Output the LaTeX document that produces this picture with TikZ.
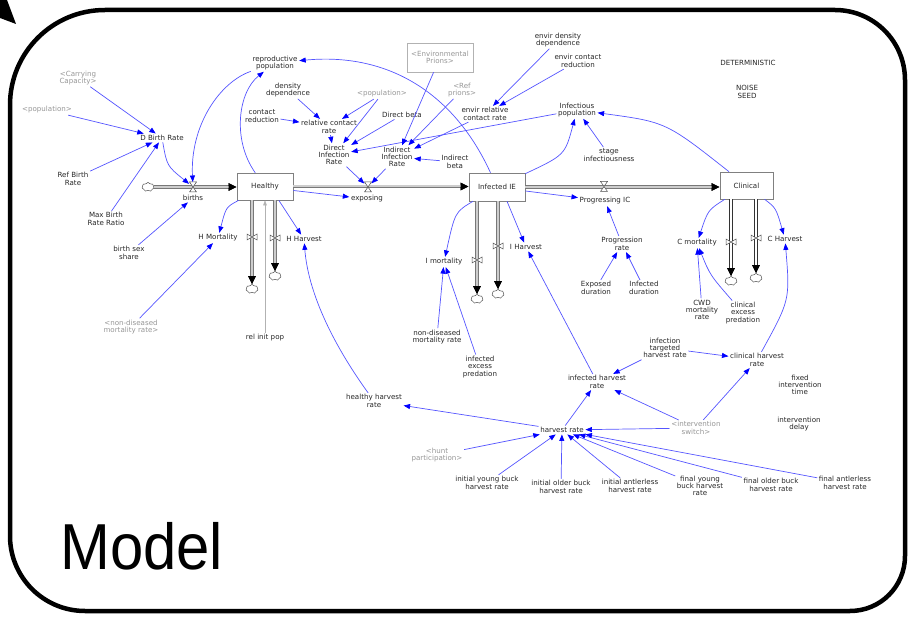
\documentclass[tikz,border=0pt]{standalone}
\usepackage{fontspec}
\usepackage{graphicx}
\setmainfont{DejaVu Sans}
\newfontfamily\modelfont{Liberation Sans}
\usetikzlibrary{arrows.meta,shapes.symbols}
\definecolor{lnkc}{RGB}{85,85,255}
\definecolor{tipc}{RGB}{0,0,255}
\definecolor{shadowc}{RGB}{150,150,150}
\definecolor{pipeout}{RGB}{120,120,120}
\definecolor{pipein}{RGB}{205,205,205}
\tikzset{
 var/.style={font=\fontsize{7.1}{7.3}\selectfont, align=center, inner sep=1.5pt, text=black!85},
 shadowvar/.style={var, text=shadowc},
 stock/.style={draw=gray, fill=white, font=\fontsize{7.1}{8}\selectfont, inner sep=0pt, line width=0.6pt, text=black!85},
 lnk/.style={draw=lnkc, line width=0.7pt, -{Triangle[length=6.5pt,width=5pt,color=tipc]}},
 glnk/.style={draw=black!30, line width=0.5pt, -{Triangle[length=5pt,width=3.5pt,color=black!30]}},
 pipe/.style={draw=pipein, line width=2pt, preaction={draw=pipeout, line width=3.6pt}, -{Triangle[length=8pt,width=7pt,color=black]}},
 pipeb/.style={draw=white, line width=2pt, preaction={draw=black!80, line width=3.4pt}, -{Triangle[length=8pt,width=7pt,color=black]}},
 cloudn/.style={cloud, cloud puffs=7, cloud puff arc=120, aspect=1.4, draw=black!70, fill=white, minimum width=12pt, minimum height=9pt, inner sep=0pt, line width=0.5pt},
 hourglass/.pic={\draw[black!70, fill=white, line width=0.5pt] (-3.5,-5) -- (3.5,-5) -- (-3.5,5) -- (3.5,5) -- cycle;},
 bowtie/.pic={\draw[black!70, fill=white, line width=0.5pt] (-5,-3) -- (-5,3) -- (5,-3) -- (5,3) -- cycle;}
}
\begin{document}
\begin{tikzpicture}[x=1pt,y=-1pt]
\useasboundingbox (0,0) rectangle (911,620);
% frame
\draw[line width=4.5pt] (105,10) -- (835,10) .. controls (873.7,10) and (905,41.3) .. (905,80) -- (905,556) .. controls (905,586.4) and (880.6,611) .. (850,611) -- (85,611) .. controls (43.6,611) and (10,577.4) .. (10,536) -- (10,105) .. controls (10,52.5) and (52.5,10) .. (105,10) -- cycle;
\fill (0,0) -- (7,0) -- (16,24) -- (0,18) -- cycle;
\node[anchor=base west, inner sep=0pt, font=\modelfont\fontsize{65}{65}\selectfont] (model) at (60,569) {\scalebox{0.92}[1]{Model}};

% stocks
\node[stock, minimum width=56pt, minimum height=27pt] (healthy) at (265,186.5) {Healthy};
\node[stock, minimum width=56pt, minimum height=28pt] (ie) at (497,187) {Infected IE};
\node[stock, minimum width=53pt, minimum height=27pt] (clin) at (746.5,185.5) {Clinical};

% clouds
\node[cloudn] (c0) at (148,187) {};
\node[cloudn] (hmc) at (252,289) {};
\node[cloudn] (hhc) at (275,276) {};
\node[cloudn] (imc) at (477,299) {};
\node[cloudn] (ihc) at (498,294) {};
\node[cloudn] (cmc) at (731,281) {};
\node[cloudn] (chc) at (756,278) {};

% valves
\coordinate (bv) at (193,187);
\coordinate (ev) at (368,187);
\coordinate (pv) at (604,186.5);
\coordinate (hmv) at (252,237);
\coordinate (hhv) at (275,238);
\coordinate (imv) at (477,260);
\coordinate (ihv) at (498,246);
\coordinate (cmv) at (731,242);
\coordinate (chv) at (756,238);

% variables
\node[shadowvar] (cc) at (78,78) {<Carrying\\Capacity>};
\node[shadowvar] (pop1) at (47,110) {<population>};
\node[var] (dbr) at (162,138) {D Birth Rate};
\node[var] (rbr) at (73,179) {Ref Birth\\Rate};
\node[var] (mbr) at (106,219) {Max Birth\\Rate Ratio};
\node[var] (bss) at (129,253) {birth sex\\share};
\node[var] (birthsl) at (193,198) {births};
\node[var] (repro) at (275,63) {reproductive\\population};
\node[var] (dd) at (288,90) {density\\dependence};
\node[var] (cr) at (262,116) {contact\\reduction};
\node[var] (rcr) at (329,127) {relative contact\\rate};
\node[shadowvar] (pop2) at (382,94) {<population>};
\node[var] (db) at (402,115) {Direct beta};
\node[var] (dir) at (334,155) {Direct\\Infection\\Rate};
\node[var] (iir) at (397,157) {Indirect\\Infection\\Rate};
\node[var] (ib) at (455,162) {Indirect\\beta};
\node[shadowvar, draw=gray!60, line width=0.6pt, minimum width=66pt, minimum height=29pt] (envpr) at (440,57.5) {<Environmental\\Prions>};
\node[shadowvar] (refpr) at (462,90) {<Ref\\prions>};
\node[var] (erc) at (485,114) {envir relative\\contact rate};
\node[var] (edd) at (558,40) {envir density\\dependence};
\node[var] (ecr) at (578,61) {envir contact\\reduction};
\node[var] (infpop) at (577,110) {Infectious\\population};
\node[var] (stinf) at (609,155) {stage\\infectiousness};
\node[var] (det) at (748,63) {DETERMINISTIC};
\node[var] (noise) at (747,92) {NOISE\\SEED};
\node[var] (expo) at (367,199) {exposing};
\node[var] (progic) at (605,201) {Progressing IC};
\node[var] (prate) at (622,244) {Progression\\rate};
\node[var] (expd) at (596,288) {Exposed\\duration};
\node[var] (infd) at (644,288) {Infected\\duration};
\node[var] (hmort) at (218,238) {H Mortality};
\node[var] (hharv) at (304,239) {H Harvest};
\node[shadowvar] (nonmr) at (131,327) {<non-diseased\\mortality rate>};
\node[var] (relinit) at (265,338) {rel init pop};
\node[var] (imort) at (444,262) {I mortality};
\node[var] (iharv) at (526,247) {I Harvest};
\node[var] (ndmr) at (437,337) {non-diseased\\mortality rate};
\node[var] (iep) at (480,367) {infected\\excess\\predation};
\node[var] (cmort) at (697,243) {C mortality};
\node[var] (charv) at (785,239) {C Harvest};
\node[var] (cwd) at (702,310) {CWD\\mortality\\rate};
\node[var] (cep) at (743,313) {clinical\\excess\\predation};
\node[var] (ithr) at (665,348) {infection\\targeted\\harvest rate};
\node[var] (chr) at (757,360) {clinical harvest\\rate};
\node[var] (ihr) at (597,382) {infected harvest\\rate};
\node[var] (fit) at (800,385) {fixed\\intervention\\time};
\node[var] (idl) at (799,424) {intervention\\delay};
\node[shadowvar] (isw) at (696,428) {<intervention\\switch>};
\node[var] (hhr) at (374,401) {healthy harvest\\rate};
\node[var] (hr) at (562,430) {harvest rate};
\node[shadowvar] (hunt) at (437,455) {<hunt\\participation>};
\node[var] (iyb) at (487,483) {initial young buck\\harvest rate};
\node[var] (iob) at (561,487) {initial older buck\\harvest rate};
\node[var] (ial) at (630,486) {initial antlerless\\harvest rate};
\node[var] (fyb) at (700,486) {final young\\buck harvest\\rate};
\node[var] (fob) at (771,485) {final older buck\\harvest rate};
\node[var] (fal) at (845,483) {final antlerless\\harvest rate};

% pipes
\draw[pipe] (c0) -- (c0 -| healthy.west);
\draw[pipe] (healthy.east) -- (healthy.east -| ie.west);
\draw[pipe] (ie.east) -- (ie.east -| clin.west);
\draw[pipe] (healthy.south -| hmc) -- (hmc);
\draw[pipe] (healthy.south -| hhc) -- (hhc);
\draw[pipe] (ie.south -| imc) -- (imc);
\draw[pipe] (ie.south -| ihc) -- (ihc);
\draw[pipeb] (clin.south -| cmc) -- (cmc);
\draw[pipeb] (clin.south -| chc) -- (chc);
\pic at (bv) {hourglass};
\pic at (ev) {hourglass};
\pic at (pv) {hourglass};
\pic at (hmv) {bowtie};
\pic at (hhv) {bowtie};
\pic at (imv) {bowtie};
\pic at (ihv) {bowtie};
\pic at (cmv) {bowtie};
\pic at (chv) {bowtie};

% links
\draw[lnk] (cc) -- (dbr);
\draw[lnk] (pop1) -- (dbr);
\draw[lnk] (rbr) -- (dbr);
\draw[lnk] (mbr) -- (dbr);
\draw[lnk, shorten >=5pt] (dbr) .. controls (167,166) .. (bv);
\draw[lnk, shorten >=5pt] (repro) .. controls (220,82) and (190,125) .. (bv);
\draw[lnk] (healthy) .. controls (232,140) and (238,92) .. (repro);
\draw[lnk] (ie) .. controls (455,95) and (390,52) .. (repro);
\draw[lnk] (bss) -- (birthsl);
\draw[lnk] (dd) -- (rcr);
\draw[lnk] (cr) -- (rcr);
\draw[lnk] (pop2) -- (rcr);
\draw[lnk] (pop2) -- (dir);
\draw[lnk] (rcr) -- (dir);
\draw[lnk] (db) -- (dir);
\draw[lnk] (infpop) -- (dir);
\draw[lnk] (erc) -- (iir);
\draw[lnk] (envpr) -- (iir);
\draw[lnk] (refpr) -- (iir);
\draw[lnk] (ib) -- (iir);
\draw[lnk, shorten >=5pt] (dir) -- (ev);
\draw[lnk, shorten >=5pt] (iir) -- (ev);
\draw[lnk] (healthy.-8) -- (expo);
\draw[lnk] (edd) -- (erc);
\draw[lnk] (ecr) -- (erc);
\draw[lnk] (ie) .. controls (565,155) .. (infpop);
\draw[lnk] (stinf) -- (infpop);
\draw[lnk] (clin) .. controls (666,122) .. (infpop);
\draw[lnk] (ie.-8) -- (progic);
\draw[lnk] (prate) -- (progic);
\draw[lnk] (expd) -- (prate);
\draw[lnk] (infd) -- (prate);
\draw[lnk] (healthy) .. controls (226,207) .. (hmort);
\draw[lnk] (healthy.-45) -- (hharv);
\draw[lnk] (nonmr) -- (hmort);
\draw[glnk] (relinit) -- (relinit |- healthy.south);
\draw[lnk] (hhr) .. controls (330,340) and (308,290) .. (hharv);
\draw[lnk] (ie) .. controls (455,212) .. (imort);
\draw[lnk] (ie.-55) -- (iharv);
\draw[lnk] (ndmr) -- (imort);
\draw[lnk] (iep) -- (imort);
\draw[lnk] (ihr) -- (iharv);
\draw[lnk] (clin) .. controls (708,210) .. (cmort);
\draw[lnk] (clin) .. controls (776,208) .. (charv);
\draw[lnk] (cwd) -- (cmort);
\draw[lnk] (cep) .. controls (710,275) .. (cmort);
\draw[lnk] (chr) .. controls (790,300) .. (charv);
\draw[lnk] (ithr) -- (chr);
\draw[lnk] (ithr) -- (ihr);
\draw[lnk] (isw) -- (chr);
\draw[lnk] (isw) -- (ihr);
\draw[lnk] (isw) -- (hr);
\draw[lnk] (hr) -- (ihr);
\draw[lnk] (hr) -- (hhr);
\draw[lnk] (hunt) -- (hr);
\draw[lnk] (iyb) -- (hr);
\draw[lnk] (iob) -- (hr);
\draw[lnk] (ial) -- (hr);
\draw[lnk] (fyb) -- (hr);
\draw[lnk] (fob) -- (hr);
\draw[lnk] (fal) -- (hr);
\end{tikzpicture}
\end{document}
